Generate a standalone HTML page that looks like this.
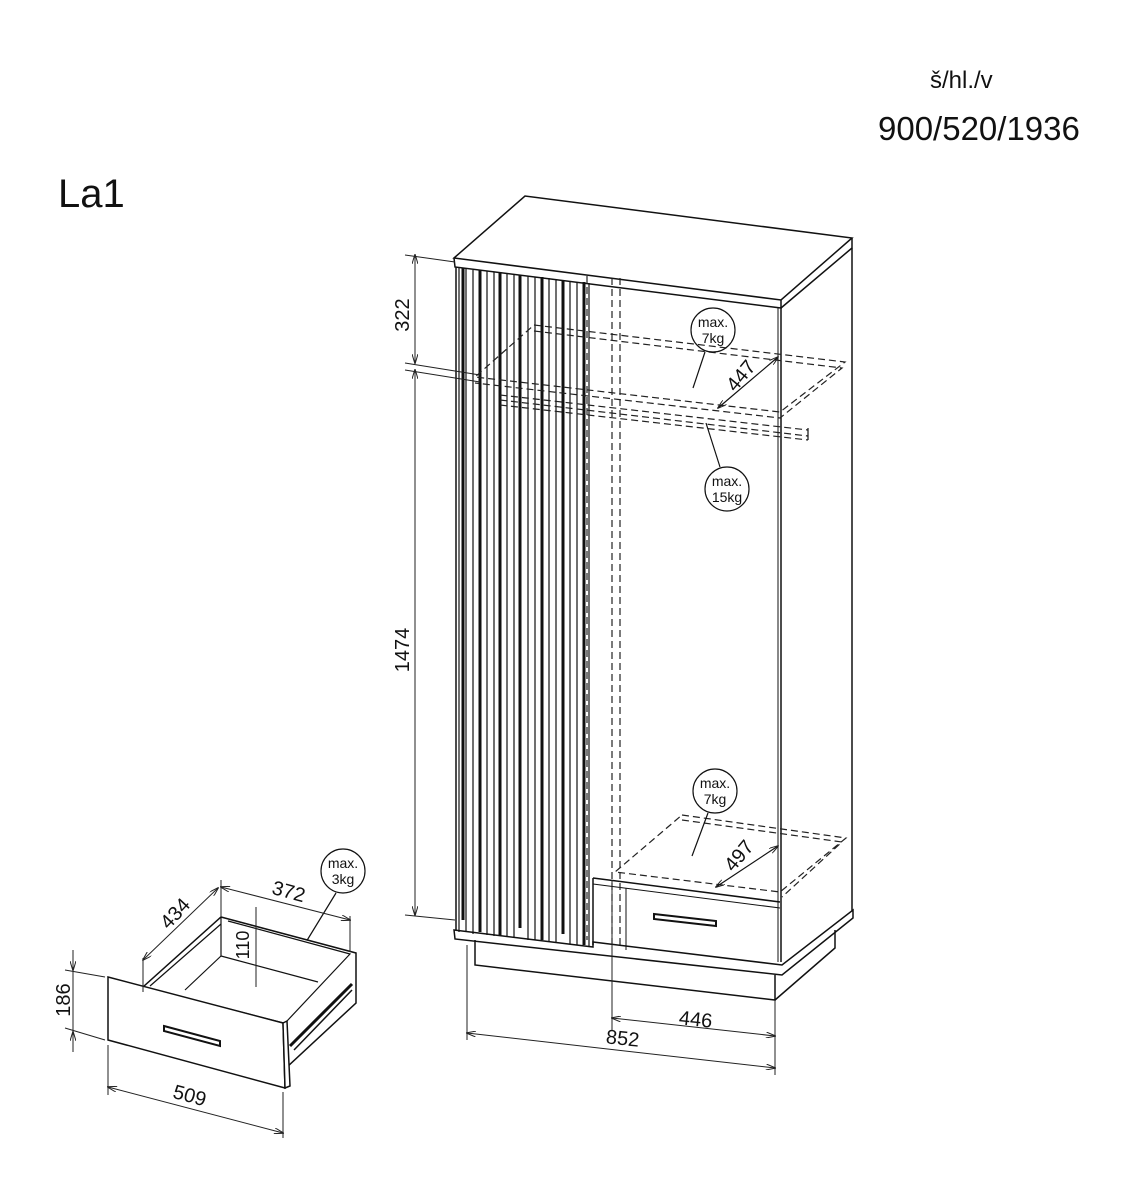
<!DOCTYPE html>
<html><head><meta charset="utf-8"><style>
html,body{margin:0;padding:0;background:#fff}
svg{display:block}
text{font-family:"Liberation Sans","DejaVu Sans",sans-serif;fill:#111}
</style></head><body>
<svg width="1140" height="1200" viewBox="0 0 1140 1200" xmlns="http://www.w3.org/2000/svg">
<defs>
<marker id="a" markerWidth="10" markerHeight="6" refX="9" refY="3" orient="auto-start-reverse" markerUnits="userSpaceOnUse"><path d="M0,0 L10,3 L0,6" fill="none" stroke="#222" stroke-width="1"/></marker>
</defs>
<text x="930" y="88" font-size="24">š/hl./v</text>
<text x="878" y="140" font-size="33">900/520/1936</text>
<text x="58" y="207" font-size="40">La1</text>

<g stroke="#111" stroke-width="1.5" fill="none">
<polygon points="454,258 525,196 852,238 781,300" fill="#fff"/>
<polyline points="454,258 455,267 781,308 781,300"/>
<polyline points="781,308 852,248 852,238"/>
<line x1="781" y1="308" x2="781" y2="962"/>
<line x1="778" y1="308" x2="778" y2="962" stroke-width="1"/>
<line x1="852" y1="248" x2="852" y2="912"/>
<line x1="456" y1="267" x2="456" y2="930"/>
<polygon points="454,930 593,947 593,942 782,965 853,910 853,918 782,975 455,939" fill="#fff"/>
<polyline points="475,940 475,965 775,1000 775,975"/>
<polyline points="775,1000 835,948 835,930"/>
<line x1="593" y1="878" x2="593" y2="945"/>
<polyline points="593,878 780,902"/>
<polyline points="593,884 780,908" stroke-width="1"/>
<line x1="626" y1="888" x2="626" y2="950" stroke-width="1"/>
<polygon points="654,914 716,921 716,926 654,919" stroke-width="2"/>
</g>

<g stroke="#111">
<g stroke-width="1.2">
<line x1="459" y1="268" x2="459" y2="932"/><line x1="466" y1="268" x2="466" y2="932"/>
<line x1="473" y1="270" x2="473" y2="934"/><line x1="487" y1="271" x2="487" y2="935"/>
<line x1="494" y1="272" x2="494" y2="936"/><line x1="507" y1="273" x2="507" y2="937"/>
<line x1="514" y1="274" x2="514" y2="938"/><line x1="528" y1="276" x2="528" y2="940"/>
<line x1="535" y1="277" x2="535" y2="940"/><line x1="549" y1="278" x2="549" y2="942"/>
<line x1="556" y1="279" x2="556" y2="942"/><line x1="570" y1="281" x2="570" y2="944"/>
<line x1="577" y1="282" x2="577" y2="945"/><line x1="589" y1="283" x2="589" y2="946"/>
</g>
<g stroke-width="3">
<line x1="463" y1="268" x2="463" y2="920"/><line x1="480" y1="270" x2="480" y2="932"/>
<line x1="500" y1="272" x2="500" y2="936"/><line x1="520" y1="275" x2="520" y2="928"/>
<line x1="542" y1="277" x2="542" y2="940"/><line x1="563" y1="280" x2="563" y2="934"/>
<line x1="584" y1="282" x2="584" y2="945"/>
</g>
</g>

<g stroke="#222" stroke-width="1.2" fill="none" stroke-dasharray="7,4">
<line x1="587" y1="276" x2="587" y2="940"/><line x1="612" y1="278" x2="612" y2="945"/><line x1="620" y1="278" x2="620" y2="945"/>
<polygon points="534,325 845,362 780,412 475,377"/>
<polyline points="534,331 842,368 780,418 475,383"/>
<polyline points="500,395 808,430"/><polyline points="500,400 808,436"/><polyline points="500,405 808,440"/>
<polygon points="682,815 846,838 780,892 615,872"/>
<polyline points="682,820 842,842 782,897"/>
</g>
<g stroke="#111" stroke-width="1.2" fill="none">
<line x1="808" y1="428" x2="808" y2="440"/>
<line x1="778" y1="357" x2="718" y2="408" marker-start="url(#a)" marker-end="url(#a)"/>
<line x1="778" y1="846" x2="716" y2="887" marker-start="url(#a)" marker-end="url(#a)"/>
<circle cx="713" cy="330" r="22"/><line x1="705" y1="352" x2="693" y2="388"/>
<circle cx="727" cy="489" r="22"/><line x1="720" y1="467" x2="706" y2="423"/>
<circle cx="715" cy="791" r="22"/><line x1="708" y1="813" x2="692" y2="856"/>
<circle cx="343" cy="871" r="22"/><line x1="336" y1="893" x2="284" y2="978"/>
</g>
<g font-size="14" text-anchor="middle">
<text x="713" y="327">max.</text><text x="713" y="343">7kg</text>
<text x="727" y="486">max.</text><text x="727" y="502">15kg</text>
<text x="715" y="788">max.</text><text x="715" y="804">7kg</text>
<text x="343" y="868">max.</text><text x="343" y="884">3kg</text>
</g>
<text font-size="20" transform="translate(746,380) rotate(-50)" text-anchor="middle">447</text>
<text font-size="20" transform="translate(744,860) rotate(-50)" text-anchor="middle">497</text>

<g stroke="#222" stroke-width="1" fill="none">
<line x1="405" y1="255" x2="455" y2="262"/>
<line x1="405" y1="363" x2="480" y2="375"/>
<line x1="405" y1="370" x2="480" y2="382"/>
<line x1="405" y1="915" x2="455" y2="920"/>
<line x1="415" y1="255" x2="415" y2="363" marker-start="url(#a)" marker-end="url(#a)"/>
<line x1="415" y1="370" x2="415" y2="915" marker-start="url(#a)" marker-end="url(#a)"/>
<line x1="467" y1="945" x2="467" y2="1040"/>
<line x1="612" y1="880" x2="612" y2="1030"/>
<line x1="775" y1="1000" x2="775" y2="1075"/>
<line x1="612" y1="1018" x2="775" y2="1036" marker-start="url(#a)" marker-end="url(#a)"/>
<line x1="467" y1="1033" x2="775" y2="1068" marker-start="url(#a)" marker-end="url(#a)"/>
</g>
<text font-size="20" transform="translate(409,315) rotate(-90)" text-anchor="middle">322</text>
<text font-size="20" transform="translate(409,650) rotate(-90)" text-anchor="middle">1474</text>
<text font-size="20" transform="translate(695,1026) rotate(6)" text-anchor="middle">446</text>
<text font-size="20" transform="translate(622,1045) rotate(6)" text-anchor="middle">852</text>

<g stroke="#111" stroke-width="1.5" fill="#fff">
<polygon points="221,917 356,953 356,1003 287,1067 283,1023 143,987"/>
<polygon points="108,977 283,1023 285,1088 108,1040"/>
<polygon points="283,1023 287,1021 290,1086 285,1088"/>
</g>
<g stroke="#111" stroke-width="1.2" fill="none">
<polyline points="221,917 221,956 318,982"/>
<line x1="221" y1="956" x2="185" y2="990"/>
<polyline points="228,921 350,954 287,1021"/>
<line x1="150" y1="986" x2="221" y2="924"/>
<polygon points="164,1026 220,1041 220,1046 164,1031" stroke-width="2"/>
<line x1="290" y1="1046" x2="352" y2="984" stroke-width="3"/>
<line x1="294" y1="1050" x2="352" y2="990" stroke-width="1.5"/>
</g>
<g stroke="#222" stroke-width="1" fill="none">
<line x1="108" y1="1045" x2="108" y2="1095"/>
<line x1="283" y1="1092" x2="283" y2="1138"/>
<line x1="108" y1="1087" x2="283" y2="1133" marker-start="url(#a)" marker-end="url(#a)"/>
<line x1="65" y1="970" x2="105" y2="977"/>
<line x1="65" y1="1028" x2="105" y2="1040"/>
<line x1="73" y1="950" x2="73" y2="1052"/>
<line x1="73" y1="950" x2="73" y2="970" marker-end="url(#a)"/>
<line x1="73" y1="1052" x2="73" y2="1032" marker-end="url(#a)"/>
<line x1="143" y1="958" x2="143" y2="992"/>
<line x1="221" y1="880" x2="221" y2="917"/>
<line x1="350" y1="916" x2="350" y2="952"/>
<line x1="143" y1="960" x2="218" y2="888" marker-start="url(#a)" marker-end="url(#a)"/>
<line x1="221" y1="887" x2="350" y2="920" marker-start="url(#a)" marker-end="url(#a)"/>
<line x1="256" y1="907" x2="256" y2="987"/>
</g>
<text font-size="20" transform="translate(70,1000) rotate(-90)" text-anchor="middle">186</text>
<text font-size="20" transform="translate(188,1102) rotate(15)" text-anchor="middle">509</text>
<text font-size="20" transform="translate(180,918) rotate(-47)" text-anchor="middle">434</text>
<text font-size="20" transform="translate(287,898) rotate(15)" text-anchor="middle">372</text>
<text font-size="18" transform="translate(249,945) rotate(-90)" text-anchor="middle">110</text>
</svg>
</body></html>
